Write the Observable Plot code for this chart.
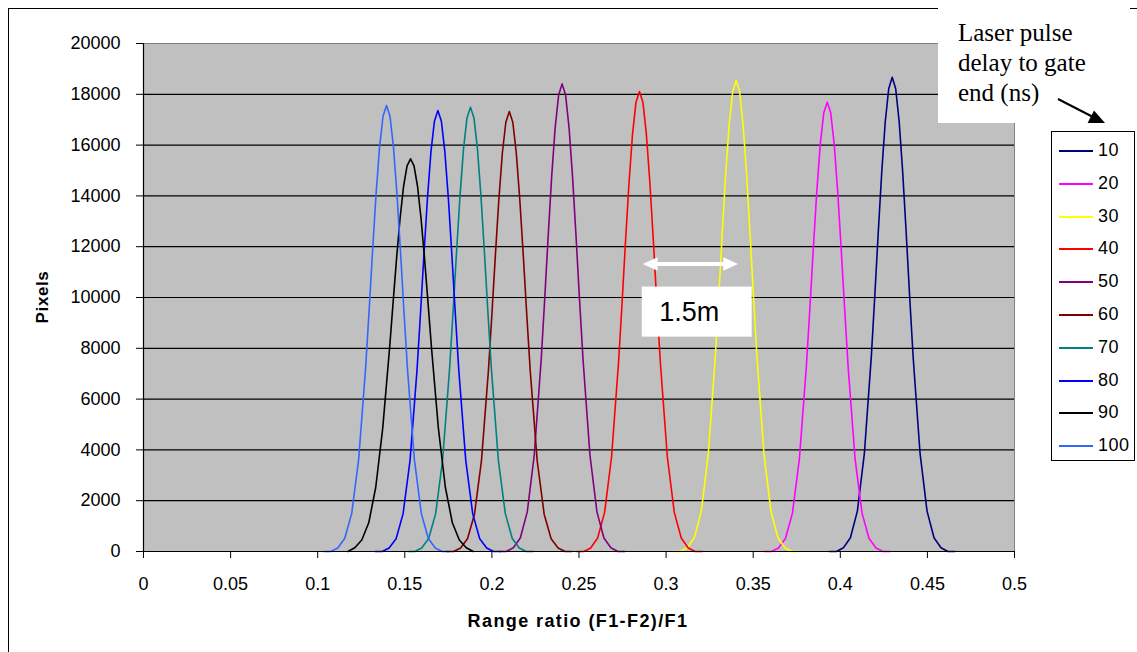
<!DOCTYPE html>
<html>
<head>
<meta charset="utf-8">
<script src="https://cdn.jsdelivr.net/npm/d3@7"></script>
<script src="https://cdn.jsdelivr.net/npm/@observablehq/plot@0.6"></script>
<style>
  html, body { margin:0; padding:0; background:#fff; }
  body { width:1137px; height:652px; overflow:hidden; position:relative; font-family:"Liberation Sans", Arial, sans-serif; }
  #chart { position:absolute; left:0; top:0; }
  .frame { position:absolute; left:8px; top:8px; width:1400px; height:900px; border:1px solid #000; pointer-events:none; }
  .ytitle { position:absolute; left:43px; top:297px; transform:translate(-50%,-50%) rotate(-90deg); font-weight:bold; font-size:17px; letter-spacing:0.6px; white-space:nowrap; }
  .xtitle { position:absolute; left:578px; top:621px; transform:translate(-50%,-50%); font-weight:bold; font-size:18px; letter-spacing:1.4px; white-space:nowrap; }
  .note { position:absolute; left:938px; top:0; width:192px; height:123px; background:#fff; box-sizing:border-box; padding:18px 0 0 20px; font-family:"Liberation Serif", "Times New Roman", serif; font-size:25px; line-height:30px; color:#000; }
  .note div { line-height:30px; height:30px; white-space:nowrap; }
  #legend { position:absolute; left:1051px; top:131px; width:84px; height:330px; border:1px solid #000; background:#fff; box-sizing:border-box; }
  .lrow { position:absolute; left:0; height:20px; width:84px; }
  .lline { position:absolute; left:7px; top:9px; width:34px; height:0; border-top:2px solid #000; }
  .ltext { position:absolute; left:46px; top:-1px; font-size:18px; line-height:20px; letter-spacing:0.5px; }
  #overlay { position:absolute; left:0; top:0; pointer-events:none; }
</style>
</head>
<body>
<div id="chart"></div>
<div class="frame"></div>
<div class="ytitle">Pixels</div>
<div class="xtitle">Range ratio (F1-F2)/F1</div>
<div class="note"><div>Laser pulse</div><div>delay to gate</div><div>end (ns)</div></div>
<div id="legend"></div>
<svg id="overlay" width="1137" height="652">
  <line x1="1058" y1="99" x2="1094" y2="117.5" stroke="#000" stroke-width="2"/>
  <polygon points="1105,123 1087.6,122.9 1094,110.5" fill="#000"/>
</svg>
<script>
// ---- data ----
const delays = [10, 20, 30, 40, 50, 60, 70, 80, 90, 100];
const colors = ["#000080", "#FF00FF", "#FFFF00", "#FF0000", "#800080", "#800000", "#008080", "#0000FF", "#000000", "#3366FF"];
const centers = [0.4298, 0.3925, 0.3402, 0.2847, 0.2403, 0.2100, 0.1877, 0.1690, 0.1533, 0.1395];
const offsets = [-0.036, -0.032, -0.028, -0.024, -0.020, -0.016, -0.012, -0.010, -0.008, -0.006, -0.004, -0.002, 0,
                  0.002, 0.004, 0.006, 0.008, 0.010, 0.012, 0.016, 0.020, 0.024, 0.028, 0.032, 0.036];
const s10  = [0,0,150,540,1590,3850,7670,10060,12580,14950,16920,18220,18670,18220,16920,14950,12580,10060,7670,3850,1590,540,150,0,0];
const s20  = [0,0,140,510,1500,3640,7270,9540,11920,14170,16030,17270,17690,17270,16030,14170,11920,9540,7270,3640,1500,510,140,0,0];
const s30  = [0,0,150,540,1580,3820,7620,9990,12500,14850,16800,18100,18540,18100,16800,14850,12500,9990,7620,3820,1580,540,150,0,0];
const s40  = [0,0,140,530,1540,3730,7440,9760,12210,14510,16410,17680,18110,17680,16410,14510,12210,9760,7440,3730,1540,530,140,0,0];
const s50  = [0,0,150,530,1560,3790,7570,9920,12410,14750,16680,17970,18410,17970,16680,14750,12410,9920,7570,3790,1560,530,150,0,0];
const s60  = [0,0,140,500,1470,3570,7120,9340,11670,13870,15690,16900,17320,16900,15690,13870,11670,9340,7120,3570,1470,500,140,0,0];
const s70  = [0,0,140,510,1490,3600,7190,9430,11790,14010,15850,17070,17490,17070,15850,14010,11790,9430,7190,3600,1490,510,140,0,0];
const s80  = [0,0,140,500,1480,3580,7130,9360,11700,13910,15730,16940,17360,16940,15730,13910,11700,9360,7130,3580,1480,500,140,0,0];
const s90  = [0,150,450,1130,2520,4840,8040,9820,11560,13130,14380,15180,15460,15180,14380,13130,11560,9820,8040,4840,2520,1130,450,150,0];
const s100 = [0,0,140,510,1490,3620,7220,9470,11840,14070,15910,17140,17560,17140,15910,14070,11840,9470,7220,3620,1490,510,140,0,0];
const seriesValues = [s10, s20, s30, s40, s50, s60, s70, s80, s90, s100];

const xTicks = [0, 0.05, 0.1, 0.15, 0.2, 0.25, 0.3, 0.35, 0.4, 0.45, 0.5];
const yTicks = [0, 2000, 4000, 6000, 8000, 10000, 12000, 14000, 16000, 18000, 20000];
const yGrid = [2000, 4000, 6000, 8000, 10000, 12000, 14000, 16000, 18000];

// annotation (data units)
const spanFrom = 0.2869, spanTo = 0.3416, spanY = 11300;
const spanLabel = "1.5m";
const labelBox = {x1: 0.2863, x2: 0.3494, y1: 8440, y2: 10410};

// ---- build ----
const data = [];
delays.forEach((d, i) => {
  seriesValues[i].forEach((v, j) => data.push({delay: d, x: centers[i] + offsets[j], y: v}));
});

const headLen = 0.0085, headHalf = 265, shaftHalf = 80;
const arrowShape = [
  {x: spanFrom, y1: spanY, y2: spanY},
  {x: spanFrom + headLen, y1: spanY - headHalf, y2: spanY + headHalf},
  {x: spanFrom + headLen, y1: spanY - shaftHalf, y2: spanY + shaftHalf},
  {x: spanTo - headLen, y1: spanY - shaftHalf, y2: spanY + shaftHalf},
  {x: spanTo - headLen, y1: spanY - headHalf, y2: spanY + headHalf},
  {x: spanTo, y1: spanY, y2: spanY}
];

const chart = Plot.plot({
  width: 1137, height: 652,
  marginLeft: 143, marginRight: 123, marginTop: 43, marginBottom: 101,
  x: {domain: [0, 0.5]},
  y: {domain: [0, 20000]},
  color: {domain: delays, range: colors},
  style: {fontFamily: '"Liberation Sans", Arial, sans-serif', fontSize: "18px", background: "transparent", color: "#000", overflow: "visible"},
  marks: [
    Plot.frame({fill: "#C0C0C0", stroke: "#808080"}),
    Plot.ruleY(yGrid, {stroke: "#000", strokeWidth: 1.2}),
    Plot.line(data, {x: "x", y: "y", z: "delay", stroke: "delay", strokeWidth: 1.6}),
    Plot.area(arrowShape, {x1: "x", y1: "y1", y2: "y2", fill: "#fff"}),
    Plot.rect([labelBox], {x1: "x1", x2: "x2", y1: "y1", y2: "y2", fill: "#fff"}),
    Plot.text([spanLabel], {x: (labelBox.x1 + labelBox.x2) / 2, y: (labelBox.y1 + labelBox.y2) / 2, text: d => d, fontSize: 27, fill: "#000", dx: -8}),
    Plot.ruleX([0], {stroke: "#000", strokeWidth: 1.2}),
    Plot.ruleY([0], {stroke: "#000", strokeWidth: 1.2}),
    Plot.axisY({ticks: yTicks, tickSize: 7, tickPadding: 16, tickFormat: d3.format("d"), label: null, letterSpacing: 0.5}),
    Plot.axisX({ticks: xTicks, tickSize: 7, tickPadding: 19, tickFormat: d => String(d), label: null})
  ]
});
document.getElementById("chart").appendChild(chart);

// legend
const legend = document.getElementById("legend");
delays.forEach((d, i) => {
  const row = document.createElement("div");
  row.className = "lrow";
  row.style.top = (9 + i * 32.8) + "px";
  const ln = document.createElement("div");
  ln.className = "lline";
  ln.style.borderTopColor = colors[i];
  const tx = document.createElement("div");
  tx.className = "ltext";
  tx.textContent = String(d);
  row.appendChild(ln); row.appendChild(tx);
  legend.appendChild(row);
});
</script>
</body>
</html>
